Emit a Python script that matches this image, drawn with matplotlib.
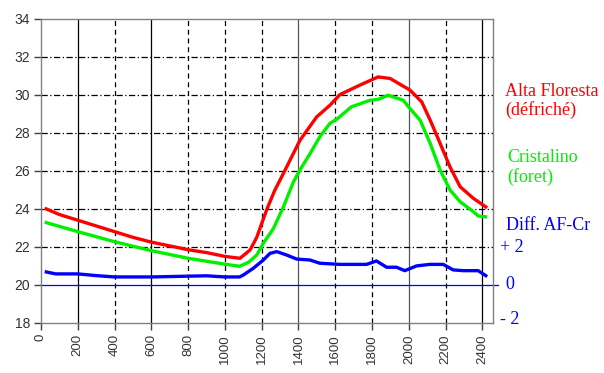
import matplotlib
matplotlib.use("Agg")
import matplotlib.pyplot as plt

# --- data -------------------------------------------------------------
alta_x = [20, 100, 200, 300, 400, 500, 600, 700, 800, 900, 1000, 1082, 1137, 1173,
          1227, 1270, 1318, 1408, 1499, 1572, 1625, 1734, 1833, 1898, 2006, 2070,
          2116, 2170, 2224, 2279, 2351, 2426]
alta_y = [24.03, 23.7, 23.4, 23.1, 22.8, 22.5, 22.25, 22.05, 21.85, 21.7, 21.5, 21.4,
          21.84, 22.5, 23.95, 24.95, 25.86, 27.6, 28.83, 29.45, 30.0, 30.5, 30.93,
          30.85, 30.24, 29.62, 28.66, 27.44, 26.2, 25.16, 24.55, 24.05]

crist_x = [20, 200, 400, 600, 800, 1000, 1080, 1130, 1173, 1209, 1263, 1318, 1372,
           1408, 1463, 1517, 1572, 1607, 1688, 1788, 1833, 1888, 1970, 2006, 2061,
           2116, 2170, 2224, 2279, 2351, 2378, 2426]
crist_y = [23.3, 22.8, 22.27, 21.8, 21.4, 21.09, 20.98, 21.2, 21.57, 22.19, 22.95,
           24.1, 25.4, 26.04, 26.9, 27.8, 28.5, 28.7, 29.36, 29.7, 29.75, 29.97, 29.7,
           29.27, 28.66, 27.44, 26.04, 24.99, 24.37, 23.85, 23.62, 23.57]

diff_x = [20, 80, 200, 300, 400, 600, 800, 900, 1000, 1080, 1100, 1155, 1209, 1245,
          1282, 1336, 1390, 1462, 1516, 1625, 1770, 1824, 1879, 1933, 1978, 2042,
          2114, 2187, 2241, 2295, 2377, 2426]
diff_y = [0.70, 0.58, 0.58, 0.49, 0.42, 0.42, 0.46, 0.48, 0.42, 0.42, 0.52, 0.88,
          1.31, 1.66, 1.75, 1.57, 1.36, 1.31, 1.14, 1.08, 1.08, 1.26, 0.93, 0.93,
          0.75, 1.00, 1.08, 1.08, 0.79, 0.75, 0.75, 0.44]
diff_offset = 20

x_ticks = list(range(0, 2401, 200))
y_ticks = list(range(18, 35, 2))
diff_labels = ["+ 2", "0", "- 2"]

# --- figure -----------------------------------------------------------
W, H = 604, 373
fig = plt.figure(figsize=(W / 100, H / 100), dpi=100)
ax = fig.add_axes([41 / W, 1 - 323 / H, (492.7 - 41) / W, (323 - 18.5) / H])
ax.set_xlim(0, 2456)
ax.set_ylim(18, 34)

# grid
solid_black = {200, 600, 2400}
solid_gray = {1400, 2000}
for xv in x_ticks[1:]:
    if xv in solid_black:
        ax.axvline(xv, color="black", lw=0.9, zorder=1)
    elif xv in solid_gray:
        ax.axvline(xv, color="#555555", lw=0.9, zorder=1)
    else:
        ax.axvline(xv, color="black", lw=0.9, linestyle=(0, (4, 3)), zorder=1)
for yv in y_ticks:
    if 20 < yv < 34:
        ax.axhline(yv, color="black", lw=0.9, linestyle=(0, (5, 2, 1, 2)), zorder=1)

# zero line for difference
ax.plot([0, 2485], [diff_offset, diff_offset], color="#0000ff", lw=0.9,
        clip_on=False, zorder=2)

ax.plot(alta_x, alta_y, color="#ff0000", lw=2.4, zorder=4, solid_capstyle="butt")
ax.plot(crist_x, crist_y, color="#00f000", lw=2.4, zorder=3, solid_capstyle="butt")
ax.plot(diff_x, [d + diff_offset for d in diff_y], color="#0000ff", lw=2.4, zorder=5,
        solid_capstyle="butt")

for s in ax.spines.values():
    s.set_color("#808080")
    s.set_linewidth(1.0)

ax.set_xticks(x_ticks)
ax.set_xticklabels([str(v) for v in x_ticks], rotation=90, fontsize=9.5,
                   family="Liberation Sans", color="#333333")
ax.set_yticks(y_ticks)
ax.set_yticklabels([str(v) for v in y_ticks], fontsize=10, family="Liberation Sans",
                   color="#333333")
ax.tick_params(axis="both", direction="out", length=5, width=1, color="#404040", pad=3)

def ftext(x, y, s, color, size=13):
    fig.text(x / W, 1 - y / H, s, color=color, fontsize=size,
             family="Liberation Serif", ha="left", va="baseline")

ftext(505, 96, "Alta Floresta", "#ff0000")
ftext(505, 115, "(défriché)", "#ff0000")
ftext(507, 162.5, "Cristalino", "#00f000")
ftext(507, 181.5, "(foret)", "#00f000")
ftext(506, 230.5, "Diff. AF-Cr", "#0000ff")
ftext(499.5, 252.5, diff_labels[0], "#0000ff")
ftext(505, 289, diff_labels[1], "#0000ff")
ftext(500, 324, diff_labels[2], "#0000ff")

fig.savefig("out.png", dpi=100)
